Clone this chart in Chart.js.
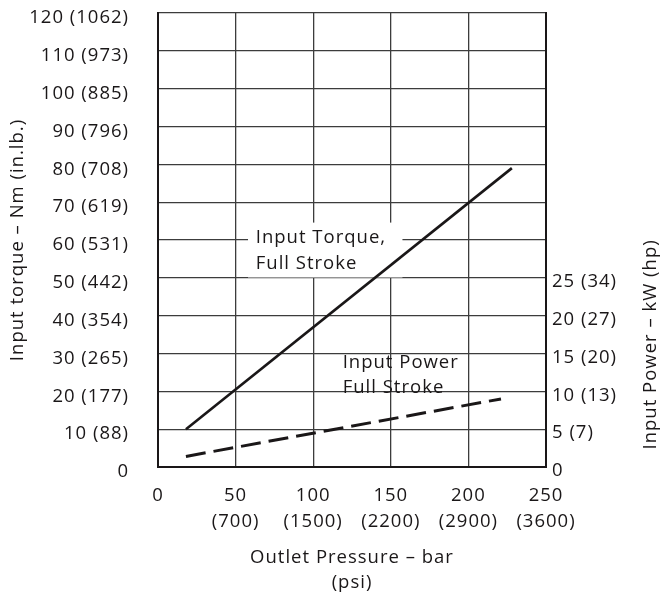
<!DOCTYPE html>
<html>
<head>
<meta charset="utf-8">
<script src="https://cdn.jsdelivr.net/npm/chart.js@4/dist/chart.umd.min.js"></script>
<style>
  html, body { margin: 0; padding: 0; background: #fff; }
</style>
</head>
<body>
<canvas id="pumpChart" width="662" height="593"></canvas>
<script>
// axis ticks (bar / Nm / kW) with their imperial twins
const pressureTicks = [0, 50, 100, 150, 200, 250];
const pressurePsi = ['', '(700)', '(1500)', '(2200)', '(2900)', '(3600)'];
const torqueTicks = [0, 10, 20, 30, 40, 50, 60, 70, 80, 90, 100, 110, 120];
const torqueInLb = ['', '(88)', '(177)', '(265)', '(354)', '(442)', '(531)', '(619)', '(708)', '(796)', '(885)', '(973)', '(1062)'];
const powerTicks = [0, 5, 10, 15, 20, 25];
const powerHp = ['', '(7)', '(13)', '(20)', '(27)', '(34)'];

// curves
const torquePressure = [18, 228];
const torqueNm = [10, 79];
const powerPressure = [18, 221];
const powerKw = [1.4, 9.0];

const ink = '#1a1718';
const gridInk = '#3c3c3c';
const fontCss = '18.5px "Open Sans", sans-serif';
const font = { family: '"Open Sans", sans-serif', size: 18.5 };

function label(ticks, extra, value) {
  const i = ticks.indexOf(value);
  if (i < 0) return '';
  return extra[i] ? value + ' ' + extra[i] : String(value);
}

// wider type like the original
const spacing = {
  id: 'spacing',
  beforeLayout(chart) { chart.ctx.letterSpacing = '1px'; },
  beforeDraw(chart) { chart.ctx.letterSpacing = '1px'; }
};

const notes = {
  id: 'notes',
  beforeDatasetsDraw(chart) {
    const { ctx, scales: { x, y, y2 } } = chart;
    ctx.save();
    // white patch behind the torque label
    const bx = x.getPixelForValue(58), by = y.getPixelForValue(64.6);
    ctx.fillStyle = '#fff';
    ctx.fillRect(bx, by, x.getPixelForValue(157.5) - bx, y.getPixelForValue(50.1) - by);
    ctx.fillStyle = ink;
    ctx.font = fontCss;
    ctx.textAlign = 'left';
    ctx.textBaseline = 'middle';
    ctx.fillText('Input Torque,', x.getPixelForValue(63), y.getPixelForValue(60.5));
    ctx.fillText('Full Stroke', x.getPixelForValue(63), y.getPixelForValue(53.6));
    ctx.fillText('Input Power', x.getPixelForValue(119), y2.getPixelForValue(13.8));
    ctx.fillText('Full Stroke', x.getPixelForValue(119), y2.getPixelForValue(10.5));
    ctx.restore();
  },
  afterDraw(chart) {
    const { ctx, scales: { y2 } } = chart;
    ctx.save();
    ctx.fillStyle = ink;
    ctx.font = fontCss;
    ctx.textAlign = 'center';
    ctx.textBaseline = 'middle';
    ctx.translate(chart.width - 11, y2.getPixelForValue(16.2));
    ctx.rotate(-Math.PI / 2);
    ctx.fillText('Input Power – kW (hp)', 0, 0);
    ctx.restore();
  }
};

new Chart(document.getElementById('pumpChart'), {
  type: 'line',
  data: {
    datasets: [{
      label: 'Input Torque, Full Stroke',
      data: torquePressure.map((p, i) => ({ x: p, y: torqueNm[i] })),
      yAxisID: 'y',
      borderColor: ink,
      borderWidth: 2.6,
      pointRadius: 0
    }, {
      label: 'Input Power Full Stroke',
      data: powerPressure.map((p, i) => ({ x: p, y: powerKw[i] })),
      yAxisID: 'y2',
      borderColor: ink,
      borderWidth: 3,
      borderDash: [20, 8],
      pointRadius: 0
    }]
  },
  options: {
    responsive: false,
    animation: false,
    layout: { padding: { top: 13, left: 0, right: 0, bottom: 0 } },
    plugins: { legend: { display: false }, tooltip: { enabled: false } },
    scales: {
      x: {
        type: 'linear',
        min: 0,
        max: 250,
        afterFit(s) { s.height = 126; },
        afterBuildTicks(s) { s.ticks = pressureTicks.map(v => ({ value: v })); },
        grid: { color: gridInk, lineWidth: 1.3, drawTicks: false },
        border: { color: ink, width: 2 },
        ticks: {
          font: { ...font, lineHeight: 1.4 },
          color: ink,
          padding: 16,
          maxRotation: 0,
          callback: v => {
            const i = pressureTicks.indexOf(v);
            return pressurePsi[i] ? [String(v), pressurePsi[i]] : String(v);
          }
        },
        title: {
          display: true,
          text: ['Outlet Pressure – bar', '(psi)'],
          font: { ...font, lineHeight: 1.35 },
          color: ink,
          padding: { top: 0, bottom: -2 }
        }
      },
      y: {
        position: 'left',
        min: 0,
        max: 120,
        afterFit(s) { s.width = 158; s.paddingTop = 0; s.paddingBottom = 0; },
        ticks: {
          stepSize: 10,
          font,
          color: ink,
          padding: 29,
          labelOffset: 5,
          callback: v => label(torqueTicks, torqueInLb, v)
        },
        grid: { color: gridInk, lineWidth: 1.3, drawTicks: false },
        border: { color: ink, width: 2 },
        title: {
          display: true,
          text: 'Input torque – Nm (in.lb.)',
          font,
          color: ink,
          padding: { top: 7, bottom: 0 }
        }
      },
      y2: {
        position: 'right',
        min: 0,
        max: 60,
        afterFit(s) { s.width = 116; s.paddingTop = 0; s.paddingBottom = 0; },
        ticks: {
          stepSize: 5,
          font,
          color: ink,
          padding: 6,
          labelOffset: 4,
          callback: v => label(powerTicks, powerHp, v)
        },
        grid: { drawOnChartArea: false, drawTicks: false },
        border: { color: ink, width: 2 }
      }
    }
  },
  plugins: [spacing, notes]
});
</script>
</body>
</html>
